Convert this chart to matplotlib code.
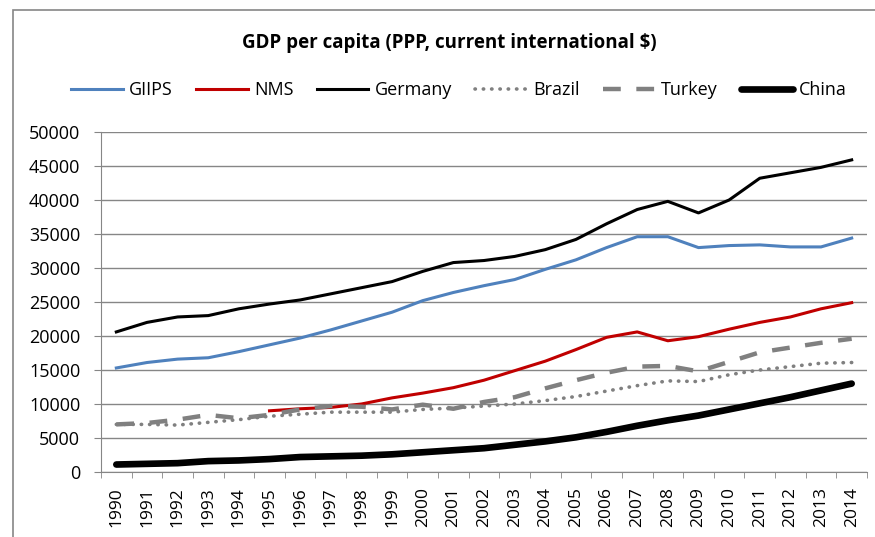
import matplotlib
matplotlib.use("Agg")
import matplotlib.pyplot as plt
from matplotlib.patches import Rectangle
import numpy as np

years = list(range(1990, 2015))
giips = [15300, 16100, 16600, 16800, 17700, 18700, 19700, 20900, 22200, 23500,
         25200, 26400, 27400, 28300, 29800, 31200, 33000, 34600, 34600, 33000,
         33300, 33400, 33100, 33100, 34400]
nms = [None] * 5 + [9000, 9300, 9500, 10000, 10900, 11600, 12400, 13500, 14900,
                    16300, 18000, 19800, 20600, 19300, 19900, 21000, 22000, 22800,
                    24000, 24900]
germany = [20600, 22000, 22800, 23000, 24000, 24700, 25300, 26200, 27100, 28000,
           29500, 30800, 31100, 31700, 32700, 34200, 36500, 38600, 39800, 38100,
           40000, 43200, 44000, 44800, 45900]
brazil = [7000, 7000, 6900, 7300, 7700, 8200, 8500, 8800, 8800, 8800,
          9200, 9400, 9700, 10000, 10500, 11100, 11900, 12700, 13400, 13300,
          14300, 15000, 15500, 16000, 16100]
turkey = [7000, 7200, 7700, 8400, 7900, 8400, 9200, 9700, 9600, 9200,
          9900, 9300, 10300, 11000, 12300, 13500, 14600, 15500, 15600, 14800,
          16200, 17600, 18300, 19000, 19600]
china = [1100, 1200, 1300, 1600, 1700, 1900, 2200, 2300, 2400, 2600,
         2900, 3200, 3500, 4000, 4500, 5100, 5900, 6800, 7600, 8300,
         9200, 10100, 11000, 12000, 13000]

plt.rcParams['font.family'] = ['Open Sans', 'DejaVu Sans']

fig = plt.figure(figsize=(8.75, 5.37), dpi=100)
ax = fig.add_axes([101 / 875, 1 - 472 / 537, (867 - 101) / 875, (472 - 132) / 537])

x = np.arange(len(years))
nms_arr = np.array([np.nan if v is None else v for v in nms], dtype=float)

ax.plot(x, giips, color='#4f81bd', lw=2.2, label='GIIPS')
ax.plot(x, nms_arr, color='#c00000', lw=2.2, label='NMS')
ax.plot(x, germany, color='black', lw=2.2, label='Germany')
ax.plot(x, brazil, color='#808080', lw=2.6, ls=(0, (0.1, 2.2)), dash_capstyle='round', label='Brazil')
ax.plot(x, turkey, color='#808080', lw=3.2, ls=(0, (4, 3.5)), label='Turkey')
ax.plot(x, china, color='black', lw=4.8, solid_capstyle='round', label='China')

ax.set_xlim(-0.5, len(years) - 0.5)
ax.set_ylim(0, 50000)
ax.set_yticks(range(0, 50001, 5000))
ax.set_xticks(x)
ax.set_xticklabels([str(y) for y in years], rotation=90)
ax.set_xticks(np.arange(-0.5, len(years), 1), minor=True)
ax.tick_params(axis='x', which='major', length=0, pad=11, labelsize=12.5)
ax.tick_params(axis='x', which='minor', length=4, color='#868686')
ax.tick_params(axis='y', length=5, color='#868686', labelsize=13, pad=10)
ax.grid(axis='y', color='#868686', lw=1.0)
ax.set_axisbelow(True)
for s in ['top', 'right']:
    ax.spines[s].set_visible(False)
for s in ['left', 'bottom']:
    ax.spines[s].set_color('#868686')

fig.text(449 / 875, 1 - 43 / 537, 'GDP per capita (PPP, current international $)',
         ha='center', va='center', fontsize=13.5, fontweight='bold')
fig.legend(*ax.get_legend_handles_labels(), loc='center', ncol=6,
           bbox_to_anchor=(459 / 875, 1 - 90 / 537), frameon=False,
           handlelength=2.85, handletextpad=0.35, columnspacing=1.3, fontsize=13)

fig.patches.append(Rectangle((13 / 875, -0.05), 1.1, 1.05 - 10 / 537,
                             transform=fig.transFigure, fill=False,
                             edgecolor='#868686', lw=1.2))

fig.savefig('out.png', dpi=100)
